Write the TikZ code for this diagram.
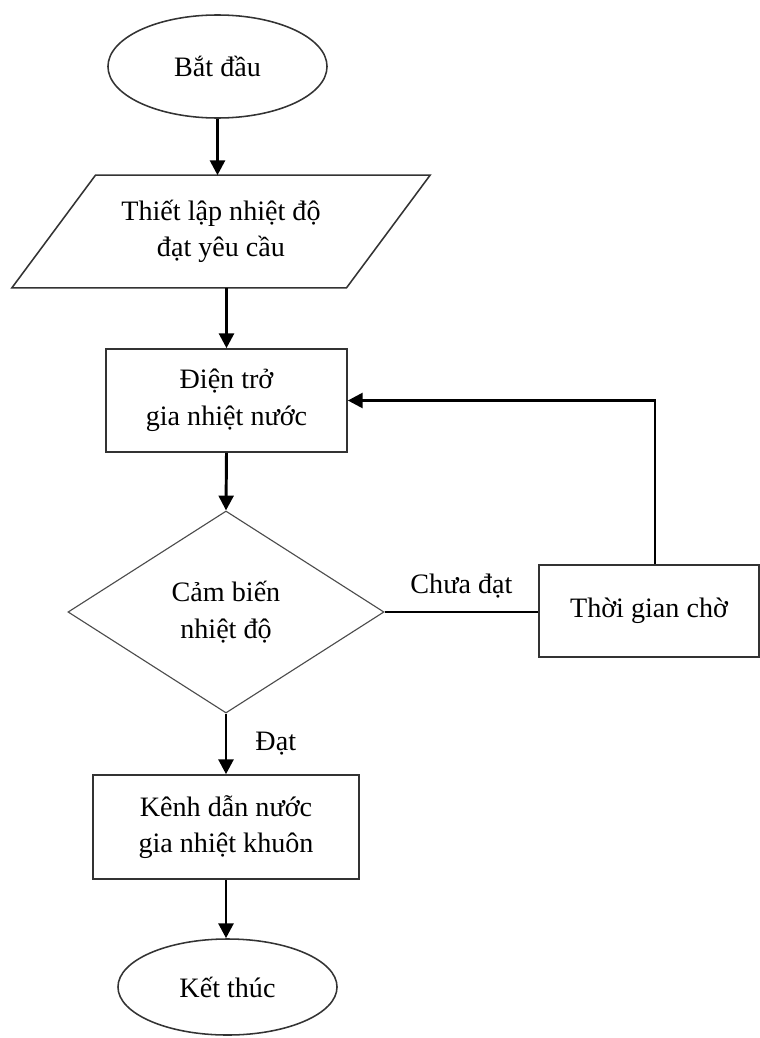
\documentclass[tikz,border=0pt]{standalone}
\usepackage{fontspec}
\setmainfont{Liberation Serif}
\usetikzlibrary{shapes.geometric,arrows.meta}

\begin{document}
\begin{tikzpicture}[x=0.025cm, y=-0.025cm,
  box/.style={draw=black!80, line width=1.1pt, align=center,
    font=\fontsize{20}{26}\selectfont, inner sep=0pt},
  flow/.style={line width=2.1pt, -{Triangle[length=10.5pt,width=10.5pt]}},
  lbl/.style={font=\fontsize{20}{26}\selectfont, inner sep=0pt}]
  \useasboundingbox (0,0) rectangle (760,1038);
  % start
  \node[box, ellipse, minimum width=5.475cm, minimum height=2.575cm] (start) at (217.5,66.5) {Bắt đầu};
  % input
  \node[box, draw=none, minimum width=8.325cm, minimum height=2.775cm] (input) at (221,231.5) {Thiết lập nhiệt độ\\đạt yêu cầu};
  \draw[black!80, line width=1.1pt] ([xshift=-1.044cm]input.south west) -- ([xshift=1.044cm]input.north west)
    -- ([xshift=1.044cm]input.north east) -- ([xshift=-1.044cm]input.south east) -- cycle;
  % heater
  \node[box, minimum width=6.025cm, minimum height=2.575cm] (heater) at (226.5,400.5) {Điện trở\\gia nhiệt nước};
  % sensor
  \node[box, diamond, draw=black!70, line width=0.8pt, minimum width=7.9cm, minimum height=5.05cm] (sensor) at (226,612) {Cảm biến\\nhiệt độ};
  % wait
  \node[box, minimum width=5.5cm, minimum height=2.3cm] (wait) at (649,611) {Thời gian chờ};
  % output
  \node[box, minimum width=6.65cm, minimum height=2.6cm] (out) at (226,827) {Kênh dẫn nước\\gia nhiệt khuôn};
  % stop
  \node[box, ellipse, minimum width=5.475cm, minimum height=2.4cm] (stop) at (227.5,987) {Kết thúc};
  % connectors
  \draw[flow] (start.south) -- (start.south |- input.north);
  \draw[flow] (input.south -| heater.north) -- (heater.north);
  \draw[flow] (heater.south) -- (sensor.north);
  \draw[line width=2.1pt] (sensor.east) -- node[lbl, above=0.3cm] {Chưa đạt} (sensor.east -| wait.west);
  \draw[flow] ([xshift=0.15cm]wait.north) |- (heater.east);
  \draw[flow] (sensor.south) -- node[lbl, right=0.7cm] {Đạt} (out.north);
  \draw[flow] (out.south) -- (out.south |- stop.north);
\end{tikzpicture}
\end{document}
